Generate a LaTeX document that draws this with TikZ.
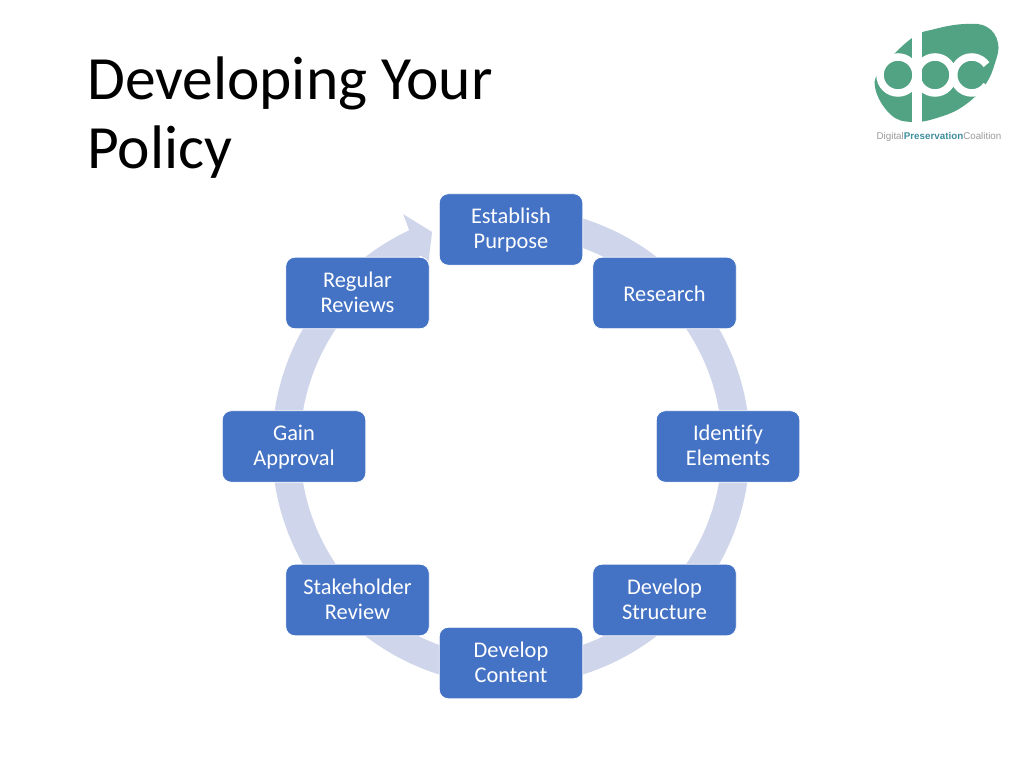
\documentclass[tikz,border=0pt]{standalone}
\usepackage{fontspec}
\setmainfont[Ligatures=CommonOff]{Carlito}
\newfontfamily\logofont{Liberation Sans}
\definecolor{boxblue}{HTML}{4472C4}
\definecolor{ringblue}{HTML}{CFD5EA}
\definecolor{logogreen}{HTML}{52A383}
\definecolor{logoteal}{HTML}{3F8FA0}
\definecolor{logogrey}{HTML}{9A9A9A}
\newcommand{\onelinestrut}{\rule[-5pt]{0pt}{27pt}}
\newcommand{\twolinestrut}{\rule[-5pt]{0pt}{49pt}}
\tikzset{
  stagebase/.style={draw=white,line width=0.8pt,fill=boxblue,rounded corners=9pt,minimum width=143.5pt,minimum height=71.5pt,inner sep=0pt,text=white,align=center,font=\fontsize{22.4}{25}\selectfont},
  stagebox/.style={stagebase,execute at begin node=\twolinestrut},
  singlebox/.style={stagebase,execute at begin node=\onelinestrut},
  titletext/.style={anchor=base west,inner sep=0pt,text=black,font=\fontsize{61.5}{62}\selectfont},
}
\begin{document}
\begin{tikzpicture}[x=1pt,y=1pt]
\useasboundingbox (0,0) rectangle (1024,768);
\fill[white] (0,0) rectangle (1024,768);
\coordinate (c) at (511,321.5);
% ring
\draw[ringblue,line width=28pt] ([shift={(c)}]90:225pt) arc[start angle=90,end angle=-245,radius=225pt];
\fill[ringblue] ([shift={(c)}]115:197pt) -- ([shift={(c)}]110.2:228.6pt) -- ([shift={(c)}]114.9:256pt) -- ([shift={(c)}]115.2:239pt) -- ([shift={(c)}]115.2:211pt) -- cycle;
% boxes
\node[stagebox] (purpose) at (511,538.5) {Establish\\Purpose};
\node[singlebox] (research) at (664.5,475) {Research};
\node[stagebox] (elements) at (728,321.5) {Identify\\Elements};
\node[stagebox] (structure) at (664.5,168) {Develop\\Structure};
\node[stagebox] (content) at (511,105) {Develop\\Content};
\node[stagebox] (stake) at (357.5,168) {Stakeholder\\Review};
\node[stagebox] (approval) at (294,321.5) {Gain\\Approval};
\node[stagebox] (reviews) at (357.5,475) {Regular\\Reviews};
% title
\node[titletext] (t1) at (87,668) {Developing Your};
\node[titletext] (t2) at (87,599) {Policy};
% logo
\begin{scope}
\fill[logogreen] plot[smooth cycle,tension=0.7] coordinates {(875,681) (883,701) (912,730) (935,739) (965,744) (987,741) (998,725) (995,705) (985,683) (965,663) (940,651) (912,646) (890,654)};
\draw[white,line width=10pt] (916.7,640) -- (916.7,750);
\draw[white,line width=7.5pt] (898,693) circle[radius=18pt];
\draw[white,line width=7.5pt] (935,693) circle[radius=18pt];
\draw[white,line width=7.5pt] ([shift={(971.7,693)}]35:18pt) arc[start angle=35,end angle=325,radius=18pt];
\end{scope}
\node[anchor=base,inner sep=0pt,font=\logofont\fontsize{9.8}{11}\selectfont] (logotext) at (939,628) {\textcolor{logogrey}{Digital}\textcolor{logoteal}{\bfseries Preservation}\textcolor{logogrey}{Coalition}};
\end{tikzpicture}
\end{document}
